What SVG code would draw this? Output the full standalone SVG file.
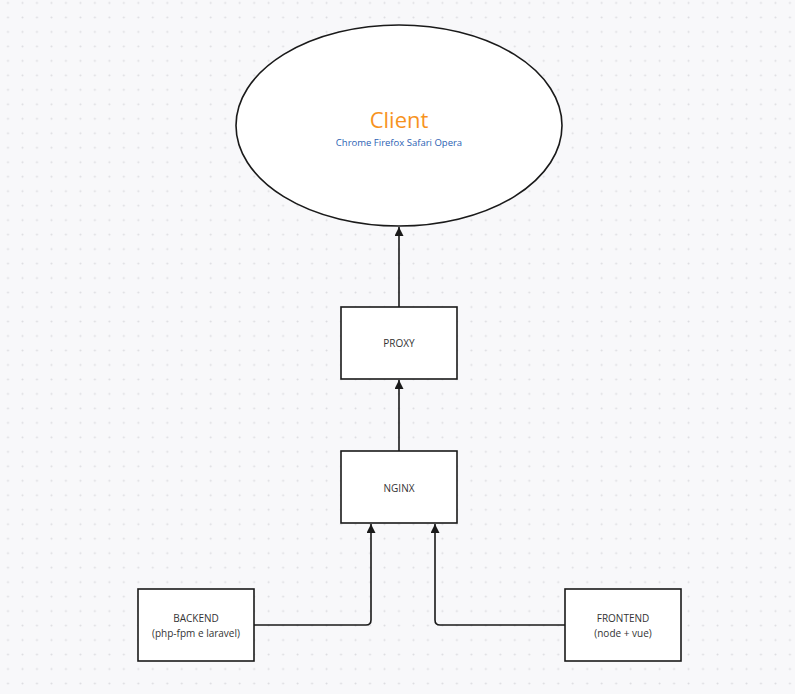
<svg xmlns="http://www.w3.org/2000/svg" width="795" height="694" viewBox="0 0 795 694">
<defs>
<pattern id="dots" x="6.5" y="1.5" width="14.48" height="14.48" patternUnits="userSpaceOnUse">
<circle cx="1.5" cy="1.5" r="1" fill="#dcdce0"/>
</pattern>
<marker id="arr" viewBox="0 0 10 10" refX="10" refY="5" markerWidth="9" markerHeight="9" markerUnits="userSpaceOnUse" orient="auto">
<path d="M0,0 L10,5 L0,10 z" fill="#1a1a1a"/>
</marker>
<style>
.box{fill:#ffffff;stroke:#1a1a1a;stroke-width:1.6}
.lbl{font-family:"Open Sans","Noto Sans",sans-serif;font-size:10px;fill:#333333;text-anchor:middle}
.con{fill:none;stroke:#1a1a1a;stroke-width:1.6}
</style>
</defs>
<rect width="795" height="694" fill="#f8f8fa"/>
<rect width="795" height="694" fill="url(#dots)"/>
<g id="client">
<ellipse cx="399" cy="125.5" rx="163" ry="100.5" class="box"/>
<text x="399" y="128" font-family="'Open Sans','Noto Sans',sans-serif" font-size="22" fill="#f7931e" text-anchor="middle">Client</text>
<text x="399" y="146" font-family="'Open Sans','Noto Sans',sans-serif" font-size="9.5" fill="#2b5fb4" text-anchor="middle">Chrome Firefox Safari Opera</text>
</g>
<g id="proxy">
<rect x="341" y="307" width="116" height="72" class="box"/>
<text x="399" y="347" class="lbl">PROXY</text>
</g>
<g id="nginx">
<rect x="341" y="451" width="116" height="72" class="box"/>
<text x="399" y="492" class="lbl">NGINX</text>
</g>
<g id="backend">
<rect x="138" y="589" width="116" height="72" class="box"/>
<text x="196" y="622" class="lbl">BACKEND</text>
<text x="196" y="637" class="lbl">(php-fpm e laravel)</text>
</g>
<g id="frontend">
<rect x="565" y="589" width="116" height="72" class="box"/>
<text x="623" y="622" class="lbl">FRONTEND</text>
<text x="623" y="637" class="lbl">(node + vue)</text>
</g>
<g id="connectors">
<path d="M399,307 L399,227" class="con" marker-end="url(#arr)"/>
<path d="M399,451 L399,380" class="con" marker-end="url(#arr)"/>
<path d="M254,625 L366,625 Q371,625 371,620 L371,524" class="con" marker-end="url(#arr)"/>
<path d="M565,625 L440,625 Q435,625 435,620 L435,524" class="con" marker-end="url(#arr)"/>
</g>
</svg>
